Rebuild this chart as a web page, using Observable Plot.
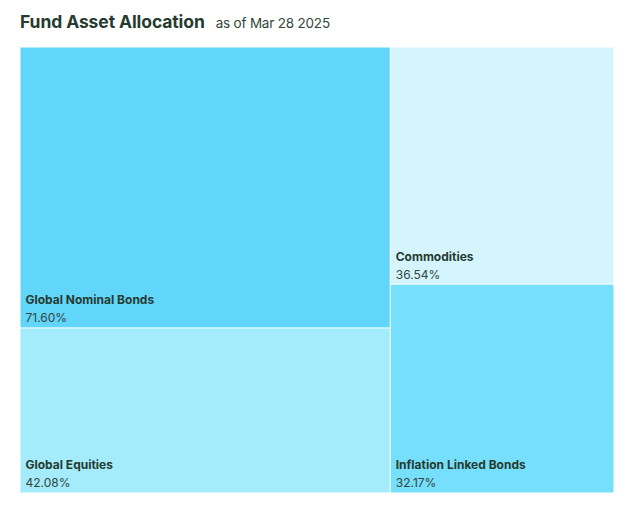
<!DOCTYPE html>
<html>
<head>
<meta charset="utf-8">
<script src="https://cdn.jsdelivr.net/npm/d3@7"></script>
<script src="https://cdn.jsdelivr.net/npm/@observablehq/plot@0.6"></script>
<style>
  body { margin: 0; background: #fff; font-family: Inter, "Noto Sans", sans-serif; }
  #head { height: 40px; box-sizing: border-box; padding: 11px 0 0 20px; color: #263b2f; white-space: nowrap; }
  #head .t { font-size: 17.5px; font-weight: 700; letter-spacing: -0.1px; }
  #head .s { font-size: 13.5px; font-weight: 400; margin-left: 11px; color: #33463b; letter-spacing: -0.2px; }
</style>
</head>
<body>
<div id="head"><span class="t">Fund Asset Allocation</span><span class="s">as of Mar 28 2025</span></div>
<div id="chart"></div>
<script>
// Allocation by asset class (percent of NAV), grouped into the two treemap columns
const assetNames = ["Global Nominal Bonds", "Global Equities", "Commodities", "Inflation Linked Bonds"];
const assetWeights = [71.60, 42.08, 36.54, 32.17];
const assetColumn = [0, 0, 1, 1];
const assetColors = ["#62d5fb", "#a4ebfc", "#d5f5fe", "#76dffc"];

// Build a two-level hierarchy: columns, then assets stacked inside each column
const columns = d3.groups(assetNames.map((name, i) => ({
  name, value: assetWeights[i], color: assetColors[i], col: assetColumn[i]
})), d => d.col).map(([col, items]) => ({name: "col" + col, children: items}));

const root = d3.hierarchy({name: "root", children: columns})
  .sum(d => d.value || 0);

// Slice-dice: columns split horizontally, assets split vertically
d3.treemap().tile(d3.treemapSliceDice).size([1, 1]).round(false)(root);

const cells = root.leaves().map(n => ({
  name: n.data.name,
  label: n.data.value.toFixed(2) + "%",
  color: n.data.color,
  x0: n.x0, x1: n.x1, y0: n.y0, y1: n.y1
}));

const chart = Plot.plot({
  width: 630,
  height: 472,
  marginTop: 7,
  marginBottom: 19,
  marginLeft: 20,
  marginRight: 16,
  x: {domain: [0, 1], axis: null},
  y: {domain: [0, 1], reverse: true, axis: null},
  style: {fontFamily: "Inter, 'Noto Sans', sans-serif"},
  marks: [
    Plot.rect(cells, {x1: "x0", x2: "x1", y1: "y0", y2: "y1", fill: "color", inset: 0.5}),
    Plot.text(cells, {x: "x0", y: "y1", text: "name", textAnchor: "start", dx: 5, dy: -28,
      fill: "#263b2f", fontWeight: 700, fontSize: 12}),
    Plot.text(cells, {x: "x0", y: "y1", text: "label", textAnchor: "start", dx: 5, dy: -10,
      fill: "#33463b", fontSize: 12, letterSpacing: "-0.3px"})
  ]
});
document.getElementById("chart").append(chart);
</script>
</body>
</html>
